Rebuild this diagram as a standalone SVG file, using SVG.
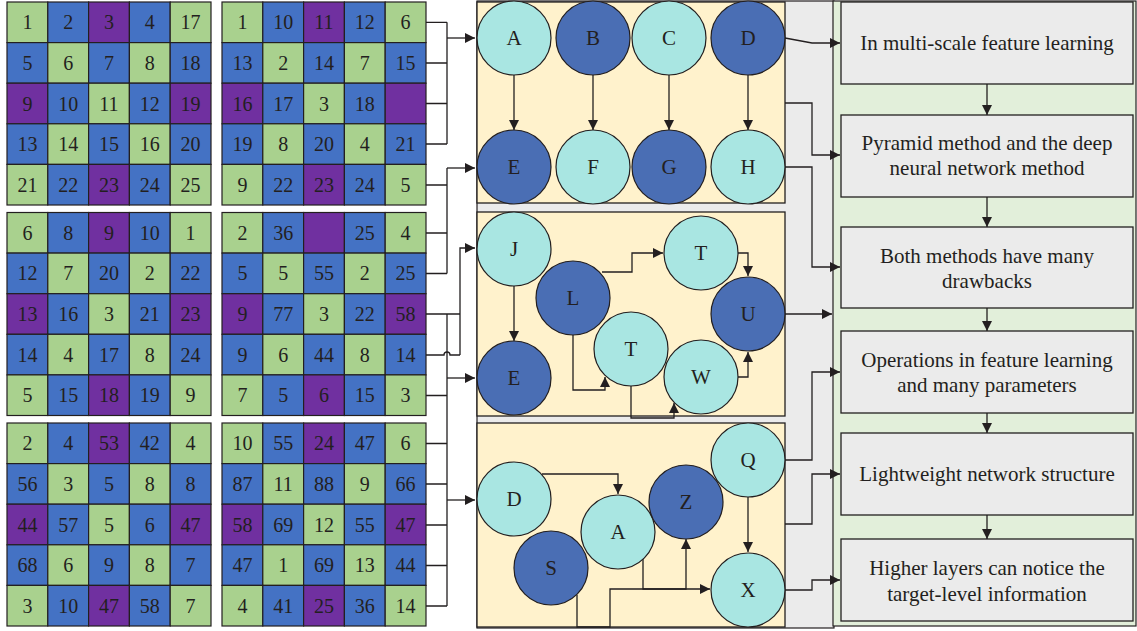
<svg xmlns="http://www.w3.org/2000/svg" xmlns:xlink="http://www.w3.org/1999/xlink" width="1137" height="631" viewBox="0 0 1137 631">
<style>
text{font-family:"Liberation Serif","DejaVu Serif",serif;fill:#231f20;}
.g{fill:#a9d18e;stroke:#231f20;stroke-width:1.2}
.b{fill:#4472c4;stroke:#231f20;stroke-width:1.2}
.p{fill:#7030a0;stroke:#231f20;stroke-width:1.2}
.ct{font-size:20px;text-anchor:middle}
.nt{font-size:21px;text-anchor:middle}
.bt{font-size:21px;text-anchor:middle}
.lc{fill:#a9e6e2;stroke:#231f20;stroke-width:1.2}
.dc{fill:#4a6eb4;stroke:#231f20;stroke-width:1.2}
.panel{fill:#fff2cc;stroke:#231f20;stroke-width:1.3}
.box{fill:#ebebeb;stroke:#231f20;stroke-width:1.3}
.ln{fill:none;stroke:#231f20;stroke-width:1.3}
.ar{fill:none;stroke:#231f20;stroke-width:1.3;marker-end:url(#ah)}
</style>
<defs>
<marker id="ah" markerUnits="userSpaceOnUse" markerWidth="10" markerHeight="10" refX="10" refY="5" orient="auto">
<path d="M0,0 L10,5 L0,10 z" fill="#231f20"/>
</marker>
<g id="cells">
<rect class="g" x="0" y="0" width="40.8" height="40.6"/><rect class="b" x="40.8" y="0" width="40.8" height="40.6"/><rect class="p" x="81.6" y="0" width="40.8" height="40.6"/><rect class="b" x="122.4" y="0" width="40.8" height="40.6"/><rect class="g" x="163.2" y="0" width="40.8" height="40.6"/>
<rect class="b" x="0" y="40.6" width="40.8" height="40.6"/><rect class="g" x="40.8" y="40.6" width="40.8" height="40.6"/><rect class="b" x="81.6" y="40.6" width="40.8" height="40.6"/><rect class="g" x="122.4" y="40.6" width="40.8" height="40.6"/><rect class="b" x="163.2" y="40.6" width="40.8" height="40.6"/>
<rect class="p" x="0" y="81.2" width="40.8" height="40.6"/><rect class="b" x="40.8" y="81.2" width="40.8" height="40.6"/><rect class="g" x="81.6" y="81.2" width="40.8" height="40.6"/><rect class="b" x="122.4" y="81.2" width="40.8" height="40.6"/><rect class="p" x="163.2" y="81.2" width="40.8" height="40.6"/>
<rect class="b" x="0" y="121.8" width="40.8" height="40.6"/><rect class="g" x="40.8" y="121.8" width="40.8" height="40.6"/><rect class="b" x="81.6" y="121.8" width="40.8" height="40.6"/><rect class="g" x="122.4" y="121.8" width="40.8" height="40.6"/><rect class="b" x="163.2" y="121.8" width="40.8" height="40.6"/>
<rect class="g" x="0" y="162.4" width="40.8" height="40.6"/><rect class="b" x="40.8" y="162.4" width="40.8" height="40.6"/><rect class="p" x="81.6" y="162.4" width="40.8" height="40.6"/><rect class="b" x="122.4" y="162.4" width="40.8" height="40.6"/><rect class="g" x="163.2" y="162.4" width="40.8" height="40.6"/>
</g>
</defs>
<rect width="1137" height="631" fill="#ffffff"/>

<!-- background regions -->
<rect id="gray-bg" x="477" y="1" width="357" height="627" fill="#ebebeb" stroke="#231f20" stroke-width="1.2"/>
<rect id="green-bg" x="833" y="1" width="303" height="625" fill="#e2efda" stroke="#231f20" stroke-width="1.2"/>

<!-- grids -->
<g id="grid1" transform="translate(7,2)">
<use xlink:href="#cells" href="#cells"/>
<text class="ct" x="20.4" y="27.3">1</text><text class="ct" x="61.2" y="27.3">2</text><text class="ct" x="102" y="27.3">3</text><text class="ct" x="142.8" y="27.3">4</text><text class="ct" x="183.6" y="27.3">17</text>
<text class="ct" x="20.4" y="67.9">5</text><text class="ct" x="61.2" y="67.9">6</text><text class="ct" x="102" y="67.9">7</text><text class="ct" x="142.8" y="67.9">8</text><text class="ct" x="183.6" y="67.9">18</text>
<text class="ct" x="20.4" y="108.5">9</text><text class="ct" x="61.2" y="108.5">10</text><text class="ct" x="102" y="108.5">11</text><text class="ct" x="142.8" y="108.5">12</text><text class="ct" x="183.6" y="108.5">19</text>
<text class="ct" x="20.4" y="149.1">13</text><text class="ct" x="61.2" y="149.1">14</text><text class="ct" x="102" y="149.1">15</text><text class="ct" x="142.8" y="149.1">16</text><text class="ct" x="183.6" y="149.1">20</text>
<text class="ct" x="20.4" y="189.7">21</text><text class="ct" x="61.2" y="189.7">22</text><text class="ct" x="102" y="189.7">23</text><text class="ct" x="142.8" y="189.7">24</text><text class="ct" x="183.6" y="189.7">25</text>
</g>
<g id="grid2" transform="translate(222,2)">
<use xlink:href="#cells" href="#cells"/>
<text class="ct" x="20.4" y="27.3">1</text><text class="ct" x="61.2" y="27.3">10</text><text class="ct" x="102" y="27.3">11</text><text class="ct" x="142.8" y="27.3">12</text><text class="ct" x="183.6" y="27.3">6</text>
<text class="ct" x="20.4" y="67.9">13</text><text class="ct" x="61.2" y="67.9">2</text><text class="ct" x="102" y="67.9">14</text><text class="ct" x="142.8" y="67.9">7</text><text class="ct" x="183.6" y="67.9">15</text>
<text class="ct" x="20.4" y="108.5">16</text><text class="ct" x="61.2" y="108.5">17</text><text class="ct" x="102" y="108.5">3</text><text class="ct" x="142.8" y="108.5">18</text>
<text class="ct" x="20.4" y="149.1">19</text><text class="ct" x="61.2" y="149.1">8</text><text class="ct" x="102" y="149.1">20</text><text class="ct" x="142.8" y="149.1">4</text><text class="ct" x="183.6" y="149.1">21</text>
<text class="ct" x="20.4" y="189.7">9</text><text class="ct" x="61.2" y="189.7">22</text><text class="ct" x="102" y="189.7">23</text><text class="ct" x="142.8" y="189.7">24</text><text class="ct" x="183.6" y="189.7">5</text>
</g>
<g id="grid3" transform="translate(7,212.5)">
<use xlink:href="#cells" href="#cells"/>
<text class="ct" x="20.4" y="27.3">6</text><text class="ct" x="61.2" y="27.3">8</text><text class="ct" x="102" y="27.3">9</text><text class="ct" x="142.8" y="27.3">10</text><text class="ct" x="183.6" y="27.3">1</text>
<text class="ct" x="20.4" y="67.9">12</text><text class="ct" x="61.2" y="67.9">7</text><text class="ct" x="102" y="67.9">20</text><text class="ct" x="142.8" y="67.9">2</text><text class="ct" x="183.6" y="67.9">22</text>
<text class="ct" x="20.4" y="108.5">13</text><text class="ct" x="61.2" y="108.5">16</text><text class="ct" x="102" y="108.5">3</text><text class="ct" x="142.8" y="108.5">21</text><text class="ct" x="183.6" y="108.5">23</text>
<text class="ct" x="20.4" y="149.1">14</text><text class="ct" x="61.2" y="149.1">4</text><text class="ct" x="102" y="149.1">17</text><text class="ct" x="142.8" y="149.1">8</text><text class="ct" x="183.6" y="149.1">24</text>
<text class="ct" x="20.4" y="189.7">5</text><text class="ct" x="61.2" y="189.7">15</text><text class="ct" x="102" y="189.7">18</text><text class="ct" x="142.8" y="189.7">19</text><text class="ct" x="183.6" y="189.7">9</text>
</g>
<g id="grid4" transform="translate(222,212.5)">
<use xlink:href="#cells" href="#cells"/>
<text class="ct" x="20.4" y="27.3">2</text><text class="ct" x="61.2" y="27.3">36</text><text class="ct" x="142.8" y="27.3">25</text><text class="ct" x="183.6" y="27.3">4</text>
<text class="ct" x="20.4" y="67.9">5</text><text class="ct" x="61.2" y="67.9">5</text><text class="ct" x="102" y="67.9">55</text><text class="ct" x="142.8" y="67.9">2</text><text class="ct" x="183.6" y="67.9">25</text>
<text class="ct" x="20.4" y="108.5">9</text><text class="ct" x="61.2" y="108.5">77</text><text class="ct" x="102" y="108.5">3</text><text class="ct" x="142.8" y="108.5">22</text><text class="ct" x="183.6" y="108.5">58</text>
<text class="ct" x="20.4" y="149.1">9</text><text class="ct" x="61.2" y="149.1">6</text><text class="ct" x="102" y="149.1">44</text><text class="ct" x="142.8" y="149.1">8</text><text class="ct" x="183.6" y="149.1">14</text>
<text class="ct" x="20.4" y="189.7">7</text><text class="ct" x="61.2" y="189.7">5</text><text class="ct" x="102" y="189.7">6</text><text class="ct" x="142.8" y="189.7">15</text><text class="ct" x="183.6" y="189.7">3</text>
</g>
<g id="grid5" transform="translate(7,423)">
<use xlink:href="#cells" href="#cells"/>
<text class="ct" x="20.4" y="27.3">2</text><text class="ct" x="61.2" y="27.3">4</text><text class="ct" x="102" y="27.3">53</text><text class="ct" x="142.8" y="27.3">42</text><text class="ct" x="183.6" y="27.3">4</text>
<text class="ct" x="20.4" y="67.9">56</text><text class="ct" x="61.2" y="67.9">3</text><text class="ct" x="102" y="67.9">5</text><text class="ct" x="142.8" y="67.9">8</text><text class="ct" x="183.6" y="67.9">8</text>
<text class="ct" x="20.4" y="108.5">44</text><text class="ct" x="61.2" y="108.5">57</text><text class="ct" x="102" y="108.5">5</text><text class="ct" x="142.8" y="108.5">6</text><text class="ct" x="183.6" y="108.5">47</text>
<text class="ct" x="20.4" y="149.1">68</text><text class="ct" x="61.2" y="149.1">6</text><text class="ct" x="102" y="149.1">9</text><text class="ct" x="142.8" y="149.1">8</text><text class="ct" x="183.6" y="149.1">7</text>
<text class="ct" x="20.4" y="189.7">3</text><text class="ct" x="61.2" y="189.7">10</text><text class="ct" x="102" y="189.7">47</text><text class="ct" x="142.8" y="189.7">58</text><text class="ct" x="183.6" y="189.7">7</text>
</g>
<g id="grid6" transform="translate(222,423)">
<use xlink:href="#cells" href="#cells"/>
<text class="ct" x="20.4" y="27.3">10</text><text class="ct" x="61.2" y="27.3">55</text><text class="ct" x="102" y="27.3">24</text><text class="ct" x="142.8" y="27.3">47</text><text class="ct" x="183.6" y="27.3">6</text>
<text class="ct" x="20.4" y="67.9">87</text><text class="ct" x="61.2" y="67.9">11</text><text class="ct" x="102" y="67.9">88</text><text class="ct" x="142.8" y="67.9">9</text><text class="ct" x="183.6" y="67.9">66</text>
<text class="ct" x="20.4" y="108.5">58</text><text class="ct" x="61.2" y="108.5">69</text><text class="ct" x="102" y="108.5">12</text><text class="ct" x="142.8" y="108.5">55</text><text class="ct" x="183.6" y="108.5">47</text>
<text class="ct" x="20.4" y="149.1">47</text><text class="ct" x="61.2" y="149.1">1</text><text class="ct" x="102" y="149.1">69</text><text class="ct" x="142.8" y="149.1">13</text><text class="ct" x="183.6" y="149.1">44</text>
<text class="ct" x="20.4" y="189.7">4</text><text class="ct" x="61.2" y="189.7">41</text><text class="ct" x="102" y="189.7">25</text><text class="ct" x="142.8" y="189.7">36</text><text class="ct" x="183.6" y="189.7">14</text>
</g>

<!-- panels -->
<rect id="panel1" class="panel" x="477" y="2" width="308" height="201"/>
<rect id="panel2" class="panel" x="477" y="212" width="308" height="204"/>
<rect id="panel3" class="panel" x="477" y="423" width="308" height="204"/>

<!-- connectors -->
<g id="connectors">
<path class="ln" d="M426,22.3 H447 M426,63 H447 M426,103.5 H447 M426,144 H447 M447,22.3 V144"/>
<path class="ar" d="M447,38 H475"/>
<path class="ln" d="M426,185 H447 M426,233 H447 M426,273.5 H447 M447,168 V273.5"/>
<path class="ar" d="M447,168 H475"/>
<path class="ln" d="M426,314 H460 M426,355 H444 A3,3 0 0 1 450,355 H460"/>
<path class="ar" d="M460,355 V248 H475"/>
<path class="ln" d="M447,314 V606 M426,395.5 H447 M426,443.5 H447 M426,484 H447 M426,525 H447 M426,565.5 H447 M426,606 H447"/>
<path class="ar" d="M447,378 H475"/>
<path class="ar" d="M447,500 H475"/>

<path class="ar" d="M514,75 V130"/>
<path class="ar" d="M593,75 V130"/>
<path class="ar" d="M669,75 V130"/>
<path class="ar" d="M748,75 V130"/>

<path class="ar" d="M514,286 V341"/>
<path class="ar" d="M602,272 H632 V253 H663"/>
<path class="ar" d="M738,253 H748 V276"/>
<path class="ar" d="M573,335 V390 H605 V377"/>
<path class="ar" d="M631,386 V418 H674 V403"/>
<path class="ar" d="M738,377 H748 V352"/>

<path class="ar" d="M542,474 H618 V494"/>
<path class="ar" d="M643,557 V589 H686 V539"/>
<path class="ar" d="M577,595 V627 H610 V589 H710"/>
<path class="ar" d="M748,497 V552"/>

<path class="ar" d="M785,38 L812,43 H840"/>
<path class="ar" d="M785,103 H812 V155 H840"/>
<path class="ar" d="M785,167 H812 V267 H840"/>
<path class="ar" d="M785,314 H832"/>
<path class="ar" d="M785,460 H812 V372 H840"/>
<path class="ar" d="M785,524 H812 V474 H840"/>
<path class="ar" d="M785,590 H812 V580 H840"/>

<path class="ar" d="M987,84 V115"/>
<path class="ar" d="M987,197 V227"/>
<path class="ar" d="M987,308 V331"/>
<path class="ar" d="M987,413 V433"/>
<path class="ar" d="M987,515 V539"/>
</g>

<!-- panel 1 nodes -->
<g id="nA"><circle class="lc" cx="514" cy="38" r="37"/><text class="nt" x="514" y="45">A</text></g>
<g id="nB"><circle class="dc" cx="593" cy="38" r="37"/><text class="nt" x="593" y="45">B</text></g>
<g id="nC"><circle class="lc" cx="669" cy="38" r="37"/><text class="nt" x="669" y="45">C</text></g>
<g id="nD"><circle class="dc" cx="748" cy="38" r="37"/><text class="nt" x="748" y="45">D</text></g>
<g id="nE"><circle class="dc" cx="514" cy="167" r="37"/><text class="nt" x="514" y="174">E</text></g>
<g id="nF"><circle class="lc" cx="593" cy="167" r="37"/><text class="nt" x="593" y="174">F</text></g>
<g id="nG"><circle class="dc" cx="669" cy="167" r="37"/><text class="nt" x="669" y="174">G</text></g>
<g id="nH"><circle class="lc" cx="748" cy="167" r="37"/><text class="nt" x="748" y="174">H</text></g>

<!-- panel 2 nodes -->
<g id="nJ"><circle class="lc" cx="514" cy="249" r="37"/><text class="nt" x="514" y="256">J</text></g>
<g id="nE2"><circle class="dc" cx="514" cy="378" r="37"/><text class="nt" x="514" y="385">E</text></g>
<g id="nL"><circle class="dc" cx="573" cy="298" r="37"/><text class="nt" x="573" y="305">L</text></g>
<g id="nT1"><circle class="lc" cx="701" cy="253" r="37"/><text class="nt" x="701" y="260">T</text></g>
<g id="nU"><circle class="dc" cx="748" cy="314" r="37"/><text class="nt" x="748" y="321">U</text></g>
<g id="nT2"><circle class="lc" cx="631" cy="349" r="37"/><text class="nt" x="631" y="356">T</text></g>
<g id="nW"><circle class="lc" cx="701" cy="377" r="37"/><text class="nt" x="701" y="384">W</text></g>

<!-- panel 3 nodes -->
<g id="nD2"><circle class="lc" cx="514" cy="499" r="37"/><text class="nt" x="514" y="506">D</text></g>
<g id="nS"><circle class="dc" cx="551" cy="568" r="37"/><text class="nt" x="551" y="575">S</text></g>
<g id="nA2"><circle class="lc" cx="618" cy="532" r="37"/><text class="nt" x="618" y="539">A</text></g>
<g id="nZ"><circle class="dc" cx="686" cy="502" r="37"/><text class="nt" x="686" y="509">Z</text></g>
<g id="nQ"><circle class="lc" cx="748" cy="460" r="37"/><text class="nt" x="748" y="467">Q</text></g>
<g id="nX"><circle class="lc" cx="748" cy="590" r="37"/><text class="nt" x="748" y="597">X</text></g>

<!-- right boxes -->
<g id="box1"><rect class="box" x="841" y="2" width="292" height="82"/><text class="bt" x="987" y="50">In multi-scale feature learning</text></g>
<g id="box2"><rect class="box" x="841" y="115" width="292" height="82"/><text class="bt" x="987" y="150">Pyramid method and the deep</text><text class="bt" x="987" y="175">neural network method</text></g>
<g id="box3"><rect class="box" x="841" y="227" width="292" height="81"/><text class="bt" x="987" y="263">Both methods have many</text><text class="bt" x="987" y="288">drawbacks</text></g>
<g id="box4"><rect class="box" x="841" y="331" width="292" height="82"/><text class="bt" x="987" y="367">Operations in feature learning</text><text class="bt" x="987" y="392">and many parameters</text></g>
<g id="box5"><rect class="box" x="841" y="433" width="292" height="82"/><text class="bt" x="987" y="481">Lightweight network structure</text></g>
<g id="box6"><rect class="box" x="841" y="539" width="292" height="82"/><text class="bt" x="987" y="575">Higher layers can notice the</text><text class="bt" x="987" y="601">target-level information</text></g>
</svg>
